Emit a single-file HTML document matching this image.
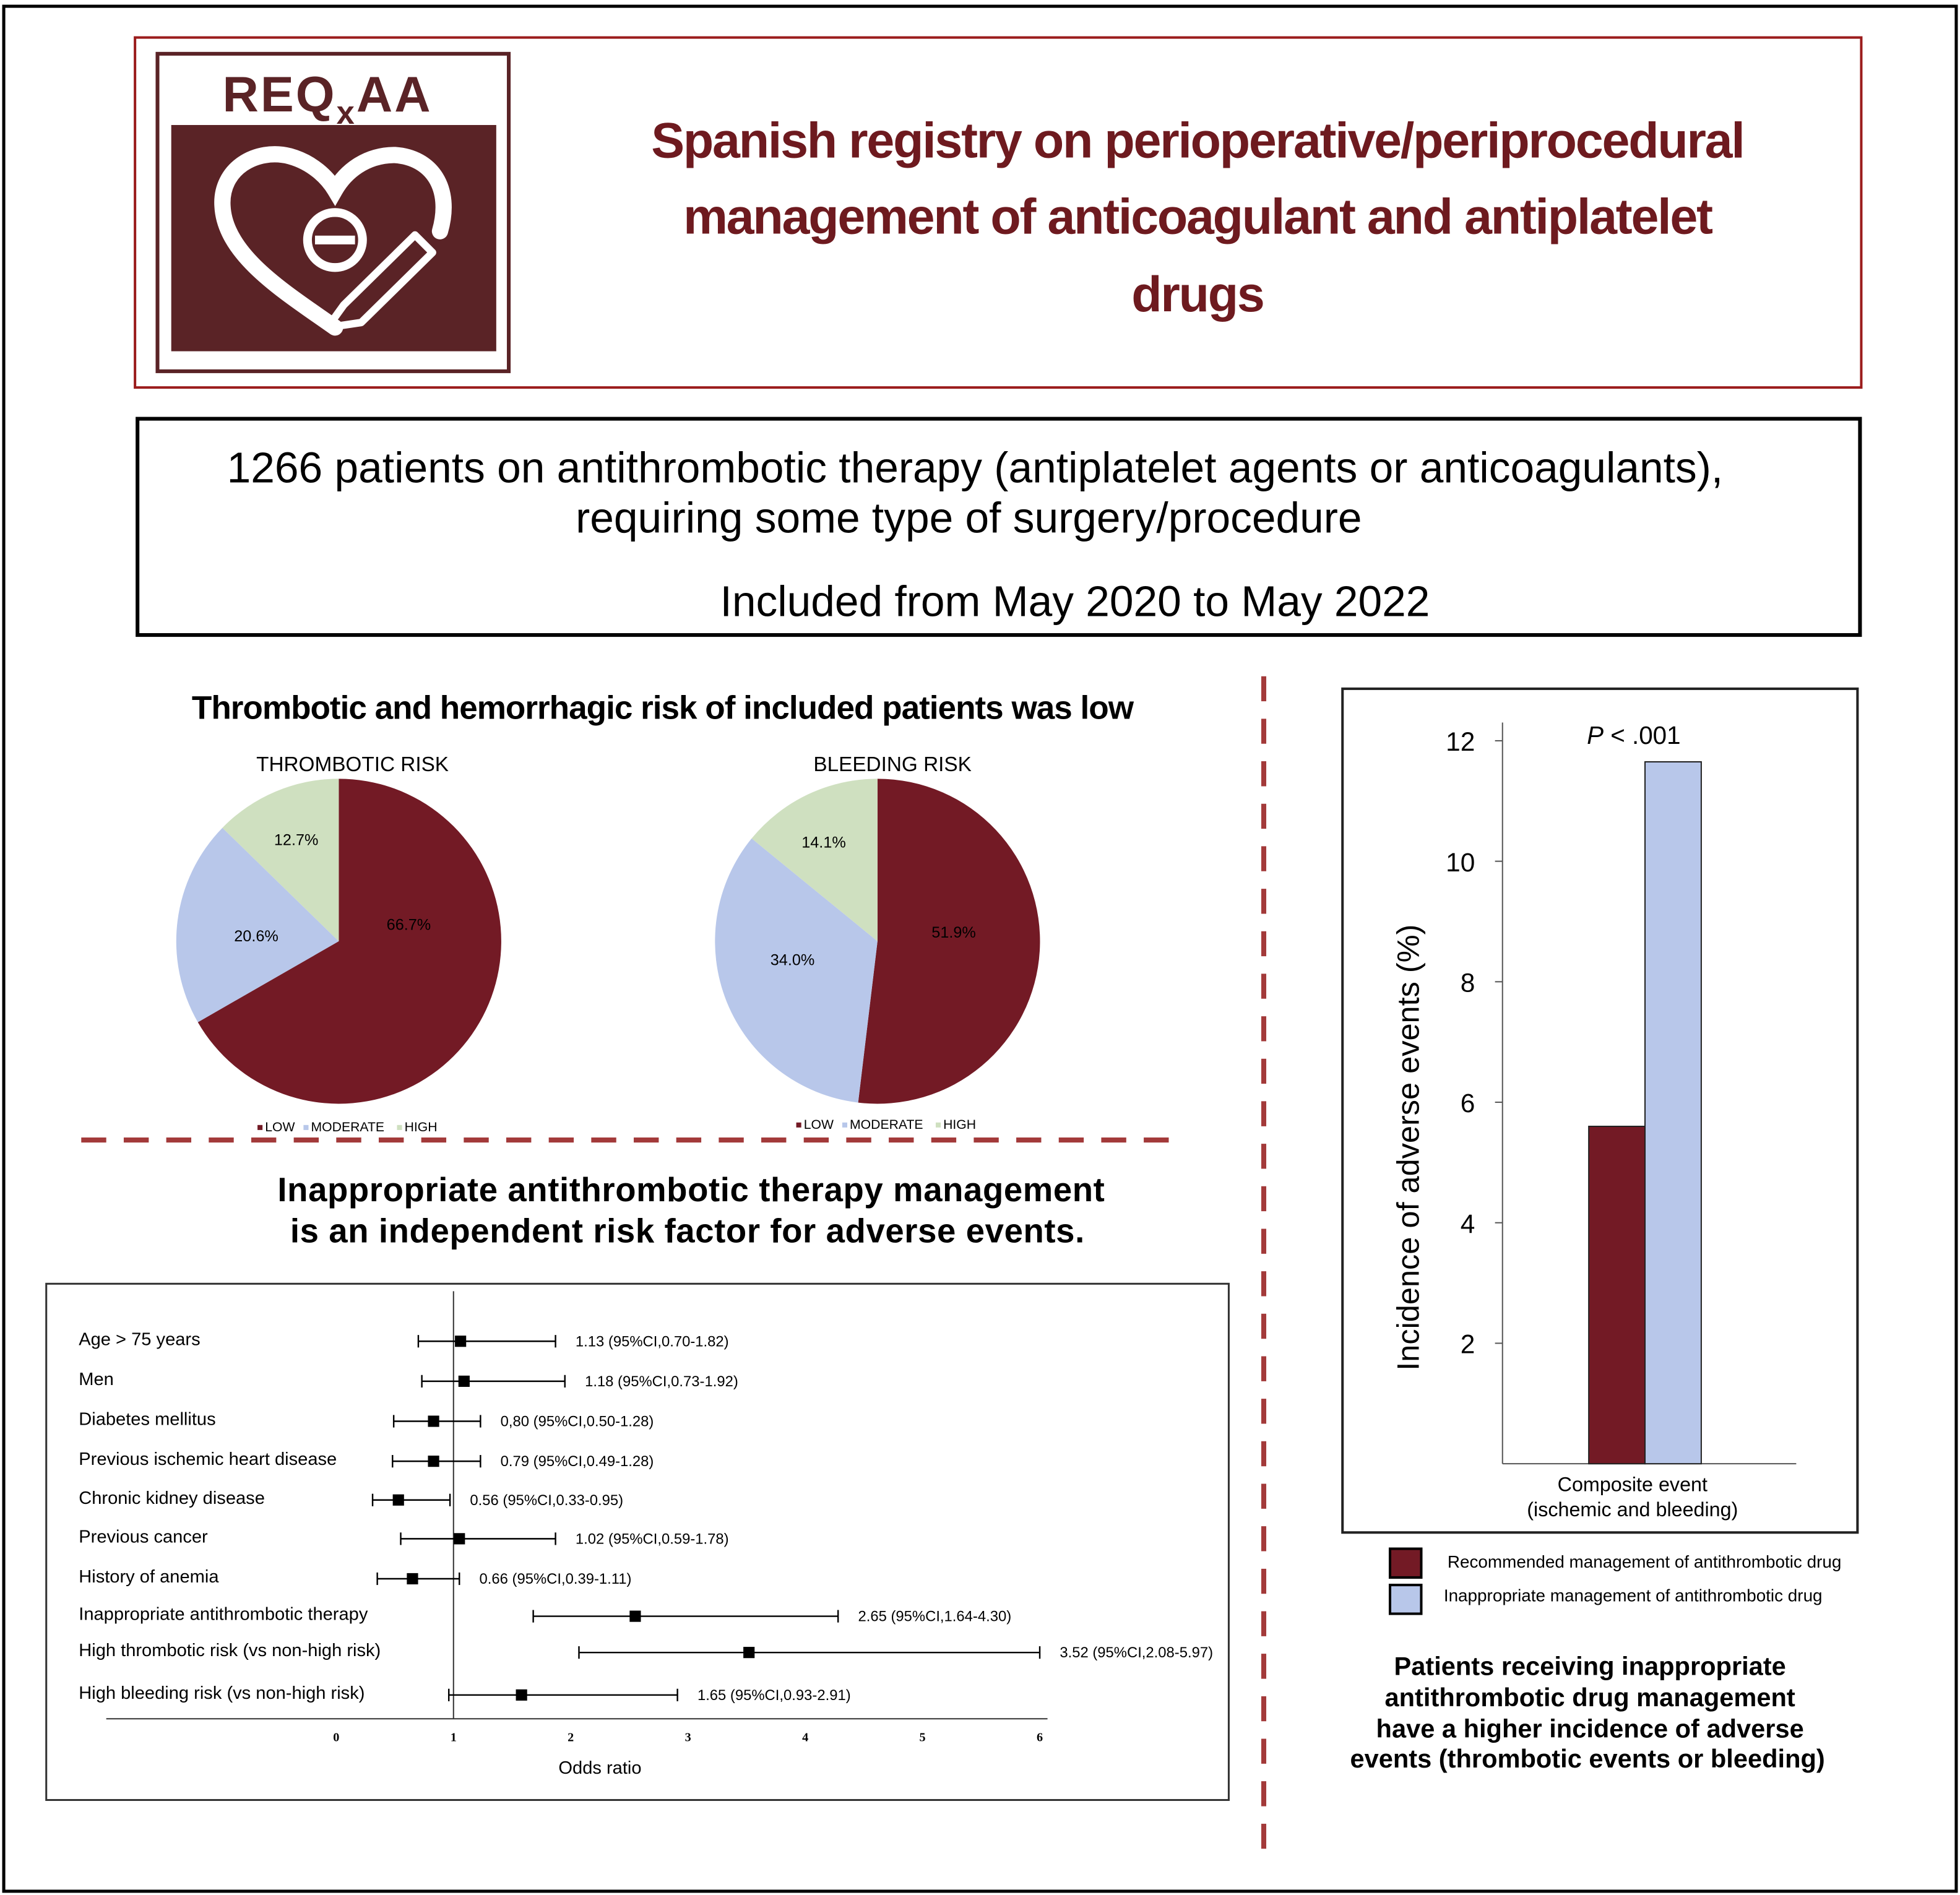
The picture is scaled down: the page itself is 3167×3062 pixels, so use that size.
<!DOCTYPE html>
<html><head><meta charset="utf-8"><style>
html,body{margin:0;padding:0;background:#fff}
svg{display:block;font-family:"Liberation Sans",Arial,sans-serif}
</style></head><body>
<svg id="root" width="3167" height="3062" viewBox="0 0 1568 1516" xmlns="http://www.w3.org/2000/svg">
<rect x="0" y="0" width="1568" height="1516" fill="#fff"/>
<rect x="3" y="5" width="1562" height="1508" fill="none" stroke="#000" stroke-width="2.5"/>

<g>
<rect x="108" y="30" width="1381" height="280" fill="none" stroke="#9b1c1c" stroke-width="2"/>
<g>
<rect x="126" y="43" width="281" height="254" fill="none" stroke="#5a2326" stroke-width="3"/>
<text x="178" y="89" font-size="40" font-weight="bold" fill="#5a2326" letter-spacing="1.5">REQ<tspan font-size="26" dy="10">x</tspan><tspan dy="-10">AA</tspan></text>
<rect x="137" y="100" width="260" height="181" fill="#5a2326"/>
<path d="M268 262 C230 235 180 205 178 165 C176 135 205 118 232 125 C250 130 262 142 268 152 C276 138 292 124 316 124 C345 126 362 150 352 185" fill="none" stroke="#fff" stroke-width="13" stroke-linecap="round"/>
<circle cx="268" cy="192" r="22" fill="none" stroke="#fff" stroke-width="7"/>
<line x1="252" y1="192" x2="284" y2="192" stroke="#fff" stroke-width="7"/>
<path d="M262 262 L275 244 L332 188 L346 202 L289 258 Z" fill="none" stroke="#fff" stroke-width="6" stroke-linejoin="round"/>
</g>
<g font-size="40" font-weight="bold" fill="#6e1a1f" text-anchor="middle" letter-spacing="-1.1">
<text x="958" y="126">Spanish registry on perioperative/periprocedural</text>
<text x="958" y="187">management of anticoagulant and antiplatelet</text>
<text x="958" y="249">drugs</text>
</g>
</g>

<g>
<rect x="110" y="335" width="1378" height="173" fill="none" stroke="#000" stroke-width="3"/>
<g font-size="34.4" fill="#000" text-anchor="middle">
<text x="780" y="386">1266 patients on antithrombotic therapy (antiplatelet agents or anticoagulants),</text>
<text x="775" y="426">requiring some type of surgery/procedure</text>
<text x="860" y="493">Included from May 2020 to May 2022</text>
</g>
</g>

<line x1="1011" y1="541" x2="1011" y2="1486" stroke="#a33a3a" stroke-width="4" stroke-dasharray="20 14"/>
<line x1="65" y1="912" x2="948" y2="912" stroke="#a33a3a" stroke-width="4" stroke-dasharray="20 14"/>

<text x="530" y="575" font-size="26.3" font-weight="bold" text-anchor="middle" letter-spacing="-0.5">Thrombotic and hemorrhagic risk of included patients was low</text>
<g id="pies"></g>

<g font-size="27" font-weight="bold" text-anchor="middle" letter-spacing="0.3">
<text x="553" y="961">Inappropriate antithrombotic therapy management</text>
<text x="550" y="994">is an independent risk factor for adverse events.</text>
</g>
<rect x="37" y="1027" width="946" height="413" fill="none" stroke="#333" stroke-width="1.5"/>
<g id="forest"></g>

<rect x="1074" y="551" width="412" height="675" fill="none" stroke="#222" stroke-width="2"/>
<g id="bars"></g>

<g>
<rect x="1112" y="1239" width="25" height="23" fill="#731a25" stroke="#000" stroke-width="2"/>
<text x="1158" y="1254" font-size="13.8">Recommended management of antithrombotic drug</text>
<rect x="1112" y="1268" width="25" height="23" fill="#b8c7ea" stroke="#000" stroke-width="2"/>
<text x="1155" y="1281" font-size="13.8">Inappropriate management of antithrombotic drug</text>
</g>
<g font-size="20.6" font-weight="bold" text-anchor="middle">
<text x="1272" y="1340">Patients receiving inappropriate</text>
<text x="1272" y="1365">antithrombotic drug management</text>
<text x="1272" y="1390">have a higher incidence of adverse</text>
<text x="1270" y="1414">events (thrombotic events or bleeding)</text>
</g>

<script>
// ---------- pie data ----------
const pieCategories = ['LOW','MODERATE','HIGH'];
const thromboticValues = [66.7, 20.6, 12.7];
const bleedingValues = [51.9, 34.0, 14.1];
const pieTitles = ['THROMBOTIC RISK','BLEEDING RISK'];
// ---------- forest data ----------
const forestLabels = ['Age > 75 years','Men','Diabetes mellitus','Previous ischemic heart disease','Chronic kidney disease','Previous cancer','History of anemia','Inappropriate antithrombotic therapy','High thrombotic risk (vs non-high risk)','High bleeding risk (vs non-high risk)'];
const forestOR = [1.06, 1.09, 0.83, 0.83, 0.53, 1.05, 0.65, 2.55, 3.52, 1.58];
const forestLo = [0.70, 0.73, 0.49, 0.48, 0.31, 0.55, 0.35, 1.68, 2.07, 0.96];
const forestHi = [1.87, 1.95, 1.23, 1.23, 0.97, 1.87, 1.05, 4.28, 6.00, 2.91];
const forestText = ['1.13 (95%CI,0.70-1.82)','1.18 (95%CI,0.73-1.92)','0,80 (95%CI,0.50-1.28)','0.79 (95%CI,0.49-1.28)','0.56 (95%CI,0.33-0.95)','1.02 (95%CI,0.59-1.78)','0.66 (95%CI,0.39-1.11)','2.65 (95%CI,1.64-4.30)','3.52 (95%CI,2.08-5.97)','1.65 (95%CI,0.93-2.91)'];
const forestTicks = [0,1,2,3,4,5,6];
// ---------- bar data ----------
const barCategories = ['Recommended','Inappropriate'];
const barValues = [5.6, 11.65];
const barTicks = [2,4,6,8,10,12];

const NS='http://www.w3.org/2000/svg';
function mk(tag, attrs, parent, txt){const e=document.createElementNS(NS,tag);for(const k in attrs)e.setAttribute(k,attrs[k]);if(txt!==undefined)e.textContent=txt;parent.appendChild(e);return e;}

// pies
const pieColors=['#731a25','#b8c7ea','#cfe0c0'];
// layout only: label offsets from centre per pie
const pieLabelLayout=[[[56,-13],[-66,-4],[-34,-81]],[[61,-7],[-68,15],[-43,-79]]];
const pies=document.getElementById('pies');
[[thromboticValues,271,282],[bleedingValues,702,714]].forEach((p,pi)=>{
  const [vals,cx,tx]=p, cy=753, r=130;
  const g=mk('g',{},pies);
  
  
  const t=mk('text',{x:tx,y:617,'font-size':16.5,'text-anchor':'middle'},g,pieTitles[pi]);
  
  
  const tot=vals.reduce((a,b)=>a+b,0);
  let a0=0;
  vals.forEach((v,i)=>{
    const a1=a0+v/tot*2*Math.PI;
    const x0=cx+r*Math.sin(a0),y0=cy-r*Math.cos(a0),x1=cx+r*Math.sin(a1),y1=cy-r*Math.cos(a1);
    const large=(a1-a0)>Math.PI?1:0;
    const s=mk('path',{d:`M${cx} ${cy} L${x0} ${y0} A${r} ${r} 0 ${large} 1 ${x1} ${y1} Z`,fill:pieColors[i]},g);
    
    
    const off=pieLabelLayout[pi][i];
    const l=mk('text',{x:cx+off[0],y:cy+off[1]+4,'font-size':12.5,'text-anchor':'middle'},g,v.toFixed(1)+'%');
    
    
    a0=a1;
  });
  const lg=mk('g',{},g);
  
  
  let lx=cx-65; const ly=pi?903:905;
  pieCategories.forEach((c,i)=>{
    mk('rect',{x:lx,y:ly-5,width:4,height:4,fill:pieColors[i]},lg);
    const tt=mk('text',{x:lx+6,y:ly,'font-size':10.5},lg,c);
    
    
    lx+=c.length*7.6+14;
  });
});

// forest
const fg=document.getElementById('forest');
const fx=v=>269+v*93.8;
const rowY=[1073,1105,1137,1169,1200,1231,1263,1293,1322,1356];
mk('line',{x1:85,y1:1375,x2:838,y2:1375,stroke:'#333','stroke-width':1},fg);
mk('line',{x1:fx(1),y1:1033,x2:fx(1),y2:1375,stroke:'#333','stroke-width':1},fg);
forestTicks.forEach(t=>{
  const e=mk('text',{x:fx(t),y:1393,'font-size':10,'font-weight':'bold','font-family':'Liberation Serif, serif','text-anchor':'middle'},fg,t);
  
  
});
const xt=mk('text',{x:480,y:1419,'font-size':14.4,'text-anchor':'middle'},fg,'Odds ratio');


forestLabels.forEach((lab,i)=>{
  const y=rowY[i];
  const t=mk('text',{x:63,y:y+3,'font-size':14.4},fg,lab);
  
  
  mk('line',{x1:fx(forestLo[i]),y1:y,x2:fx(forestHi[i]),y2:y,stroke:'#000','stroke-width':1.2},fg);
  mk('line',{x1:fx(forestLo[i]),y1:y-5,x2:fx(forestLo[i]),y2:y+5,stroke:'#000','stroke-width':1.2},fg);
  mk('line',{x1:fx(forestHi[i]),y1:y-5,x2:fx(forestHi[i]),y2:y+5,stroke:'#000','stroke-width':1.2},fg);
  const m=mk('rect',{x:fx(forestOR[i])-4.5,y:y-4.5,width:9,height:9,fill:'#000'},fg);
  
  
  const v=mk('text',{x:fx(forestHi[i])+16,y:y+4,'font-size':11.8},fg,forestText[i]);
  
  
});

// bars
const bg=document.getElementById('bars');
const by=v=>1171-v*48.2;
mk('line',{x1:1202,y1:578,x2:1202,y2:1171,stroke:'#555','stroke-width':1},bg);
mk('line',{x1:1202,y1:1171,x2:1437,y2:1171,stroke:'#555','stroke-width':1},bg);
barTicks.forEach(t=>{
  mk('line',{x1:1196,y1:by(t),x2:1202,y2:by(t),stroke:'#555'},bg);
  const e=mk('text',{x:1180,y:by(t)+8,'font-size':21,'text-anchor':'end'},bg,t);
  
  
});
const barColors=['#731a25','#b8c7ea'];
barValues.forEach((v,i)=>{
  const b=mk('rect',{x:1271+i*45,y:by(v),width:45,height:by(0)-by(v),fill:barColors[i],stroke:'#222','stroke-width':1},bg);
  
  
});
const yt=mk('text',{x:0,y:0,'font-size':25,'text-anchor':'middle',transform:'translate(1135,918) rotate(-90)'},bg,'Incidence of adverse events (%)');


const pv=mk('text',{x:1307,y:595,'font-size':20,'text-anchor':'middle'},bg);


mk('tspan',{'font-style':'italic'},pv,'P');
mk('tspan',{},pv,' < .001');
const c1=mk('text',{x:1306,y:1193,'font-size':16,'text-anchor':'middle'},bg,'Composite event');


const c2=mk('text',{x:1306,y:1213,'font-size':16,'text-anchor':'middle'},bg,'(ischemic and bleeding)');


</script>
</svg>
</body></html>
